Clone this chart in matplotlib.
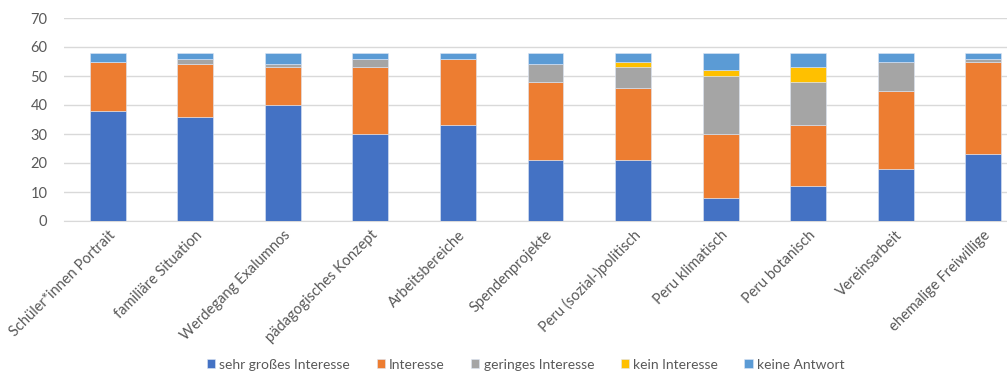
import matplotlib
matplotlib.use("Agg")
import matplotlib.pyplot as plt
import numpy as np

plt.rcParams["font.family"] = ["Lato", "DejaVu Sans"]

categories = [
    "Schüler*innen Portrait", "familiäre Situation", "Werdegang Exalumnos",
    "pädagogisches Konzept", "Arbeitsbereiche", "Spendenprojekte",
    "Peru (sozial-)politisch", "Peru klimatisch", "Peru botanisch",
    "Vereinsarbeit", "ehemalige Freiwillige",
]
sehr_gross = [38, 36, 40, 30, 33, 21, 21, 8, 12, 18, 23]
interesse = [17, 18, 13, 23, 23, 27, 25, 22, 21, 27, 32]
gering = [0, 2, 1, 3, 0, 6, 7, 20, 15, 10, 1]
kein = [0, 0, 0, 0, 0, 0, 2, 2, 5, 0, 0]
keine_antwort = [3, 2, 4, 2, 2, 4, 3, 6, 5, 3, 2]

series = [
    ("sehr großes Interesse", sehr_gross, "#4472C4"),
    ("Interesse", interesse, "#ED7D31"),
    ("geringes Interesse", gering, "#A5A5A5"),
    ("kein Interesse", kein, "#FFC000"),
    ("keine Antwort", keine_antwort, "#5B9BD5"),
]

fig = plt.figure(figsize=(10.07, 3.72), dpi=100)
ax = fig.add_axes([64 / 1007, 151 / 372, 963 / 1007, 203 / 372])

x = np.arange(len(categories))
bottom = np.zeros(len(categories))
handles = []
for label, vals, color in series:
    vals = np.array(vals, dtype=float)
    b = ax.bar(x, vals, 0.41, bottom=bottom, color=color, label=label,
               edgecolor="#DDE6F4", linewidth=0.4, zorder=3)
    handles.append(b)
    bottom += vals

ax.set_xlim(-0.5, len(categories) - 0.5)
ax.set_ylim(0, 70)
ax.set_yticks(range(0, 71, 10))
ax.grid(axis="y", color="#D9D9D9", linewidth=1, zorder=0)
for s in ["top", "right", "left"]:
    ax.spines[s].set_visible(False)
ax.spines["bottom"].set_color("#D9D9D9")
ax.tick_params(axis="both", length=0, colors="#595959", labelsize=10.5)
ax.tick_params(axis="y", pad=12)
ax.tick_params(axis="x", pad=5)
ax.set_xticks(x)
ax.set_xticklabels(categories, rotation=45, ha="right", rotation_mode="anchor",
                   color="#595959", fontsize=10.5)

fig.legend(handles=handles, loc="lower center", bbox_to_anchor=(0.522, -0.03),
           ncol=5, frameon=False, fontsize=10, handlelength=0.6, handleheight=0.6,
           columnspacing=1.9, handletextpad=0.3, labelcolor="#595959")

fig.savefig("out.png", dpi=100)
